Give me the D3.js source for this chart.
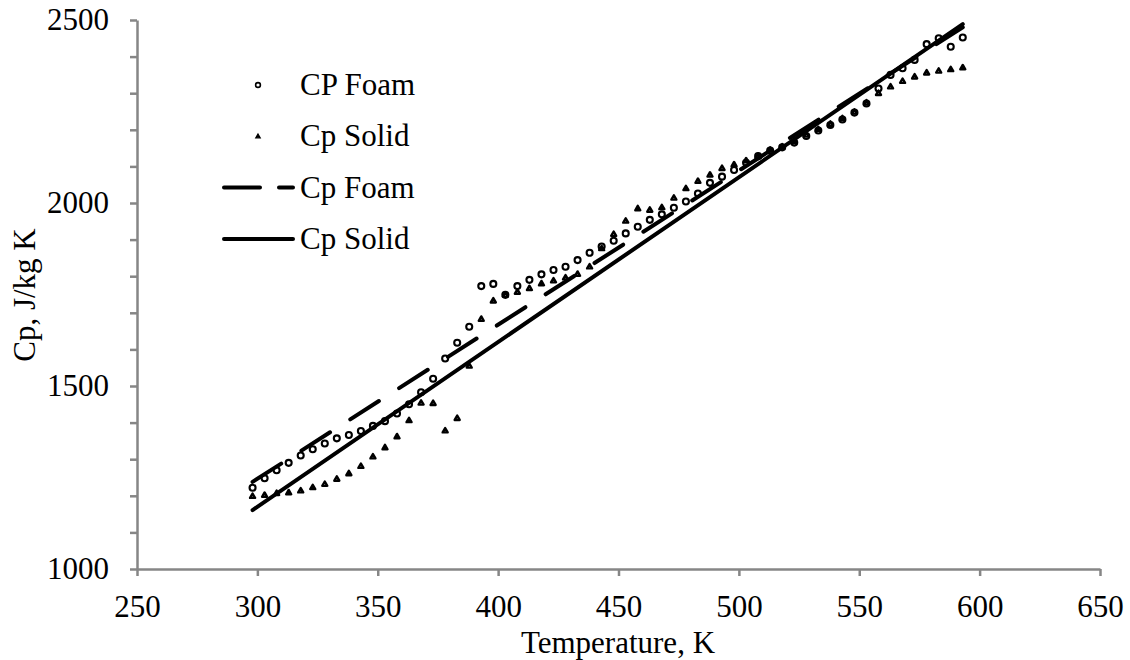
<!DOCTYPE html>
<html>
<head>
<meta charset="utf-8">
<script src="https://cdn.jsdelivr.net/npm/d3@7"></script>
<style>
  body { margin: 0; background: #fff; }
  svg text { font-family: "Liberation Serif", "Times New Roman", serif; fill: #000; }
</style>
</head>
<body>
<svg id="chart" width="1130" height="660"></svg>
<script>
// measured temperatures, K
const temps = [298,303,308,313,318,323,328,333,338,343,348,353,358,363,368,373,378,383,388,393,
               398,403,408,413,418,423,428,433,438,443,448,453,458,463,468,473,478,483,488,493,
               498,503,508,513,518,523,528,533,538,543,548,553,558,563,568,573,578,583,588,593];

// Cp of the foam, J/kg K (circles)
const cpFoam = [1222,1248,1270,1290,1310,1327,1343,1357,1366,1377,1391,1404,1425,1450,1483,1520,1575,1618,1662,1773,
                1779,1749,1773,1790,1805,1817,1826,1844,1864,1881,1897,1917,1935,1954,1969,1987,2004,2026,2055,2072,
                2090,2110,2128,2143,2152,2165,2183,2198,2213,2228,2247,2272,2313,2350,2368,2391,2434,2450,2427,2452];

// Cp of the solid, J/kg K (triangles)
const cpSolid = [1199,1202,1207,1209,1214,1223,1232,1246,1261,1281,1307,1332,1362,1406,1454,1453,1378,1412,1555,1683,
                 1733,1749,1757,1767,1780,1788,1796,1806,1826,1876,1915,1951,1985,1981,1988,2014,2040,2060,2077,2095,
                 2105,2116,2128,2145,2154,2168,2186,2201,2216,2231,2249,2274,2300,2318,2333,2345,2356,2361,2365,2370];

// linear fits (end points)
const fitT = [298, 593];
const fitFoam = [1238, 2480];
const fitSolid = [1161, 2489];

const xTicks = [250,300,350,400,450,500,550,600,650];
const yLabels = [1000,1500,2000,2500];

const legendItems = ["CP Foam", "Cp Solid", "Cp Foam", "Cp Solid"];

const svg = d3.select("#chart");
const axisColor = "#868686";

const x = d3.scaleLinear().domain([250, 650]).range([137, 1100]);
const y = d3.scaleLinear().domain([1000, 2500]).range([569, 20]);

// y axis, minor ticks every 100, labels every 500
const yAxis = d3.axisLeft(y)
    .tickValues(d3.range(1000, 2501, 100))
    .tickSize(7).tickSizeOuter(0).tickPadding(21)
    .tickFormat(d => yLabels.includes(d) ? d : "");

const gy = svg.append("g").attr("transform", "translate(137,0)").call(yAxis);

const xAxis = d3.axisBottom(x)
    .tickValues(xTicks)
    .tickSize(7).tickSizeOuter(0).tickPadding(19);

const gx = svg.append("g").attr("transform", "translate(0,569)").call(xAxis);

[gx, gy].forEach(g => {
    g.select(".domain").attr("stroke", axisColor).attr("stroke-width", 2.5);
    g.selectAll(".tick line").attr("stroke", axisColor).attr("stroke-width", 2.5);
    g.selectAll(".tick text").attr("font-size", 31).attr("fill", "#000")
        .style("font-family", "'Liberation Serif', 'Times New Roman', serif");
});

// titles
svg.append("text")
    .attr("x", 618).attr("y", 653)
    .attr("text-anchor", "middle").attr("font-size", 31)
    .text("Temperature, K");

svg.append("text")
    .attr("transform", "translate(35,295) rotate(-90)")
    .attr("text-anchor", "middle").attr("font-size", 31)
    .text("Cp, J/kg K");

const triPath = (cx, cy, s) => {
    const h = s * 0.87;
    return `M${cx},${cy - h * 0.6}L${cx + s / 2},${cy + h * 0.4}L${cx - s / 2},${cy + h * 0.4}Z`;
};

// scatter: foam circles
svg.append("g").selectAll("circle")
    .data(temps)
    .join("circle")
    .attr("cx", d => x(d))
    .attr("cy", (d, i) => y(cpFoam[i]))
    .attr("r", 3)
    .attr("fill", "#fff")
    .attr("stroke", "#000")
    .attr("stroke-width", 2.1);

// scatter: solid triangles
svg.append("g").selectAll("path")
    .data(temps)
    .join("path")
    .attr("d", (d, i) => triPath(x(d), y(cpSolid[i]), 5))
    .attr("fill", "#fff")
    .attr("stroke", "#000")
    .attr("stroke-width", 2.4)
    .attr("stroke-linejoin", "round");

// trend lines
const line = d3.line().x(d => x(d[0])).y(d => y(d[1]));

svg.append("path")
    .datum(fitT.map((t, i) => [t, fitFoam[i]]))
    .attr("d", line)
    .attr("fill", "none").attr("stroke", "#000")
    .attr("stroke-width", 4)
    .attr("stroke-linecap", "round")
    .attr("stroke-dasharray", "34 24");

svg.append("path")
    .datum(fitT.map((t, i) => [t, fitSolid[i]]))
    .attr("d", line)
    .attr("fill", "none").attr("stroke", "#000")
    .attr("stroke-width", 4)
    .attr("stroke-linecap", "round");

// legend
const leg = svg.append("g");
const rowY = i => 85 + i * 51.3;

leg.selectAll("text")
    .data(legendItems)
    .join("text")
    .attr("x", 300)
    .attr("y", (d, i) => rowY(i) + 10)
    .attr("font-size", 31)
    .text(d => d);

leg.append("circle")
    .attr("cx", 258).attr("cy", rowY(0)).attr("r", 2.4)
    .attr("fill", "#fff").attr("stroke", "#000").attr("stroke-width", 1.6);

leg.append("path")
    .attr("d", triPath(258, rowY(1), 4.5))
    .attr("fill", "#000").attr("stroke", "#000").attr("stroke-width", 1.2);

leg.append("line")
    .attr("x1", 224).attr("x2", 293)
    .attr("y1", rowY(2)).attr("y2", rowY(2))
    .attr("stroke", "#000").attr("stroke-width", 4)
    .attr("stroke-linecap", "round")
    .attr("stroke-dasharray", "36 19");

leg.append("line")
    .attr("x1", 224).attr("x2", 293)
    .attr("y1", rowY(3)).attr("y2", rowY(3))
    .attr("stroke", "#000").attr("stroke-width", 4)
    .attr("stroke-linecap", "round");
</script>
</body>
</html>
